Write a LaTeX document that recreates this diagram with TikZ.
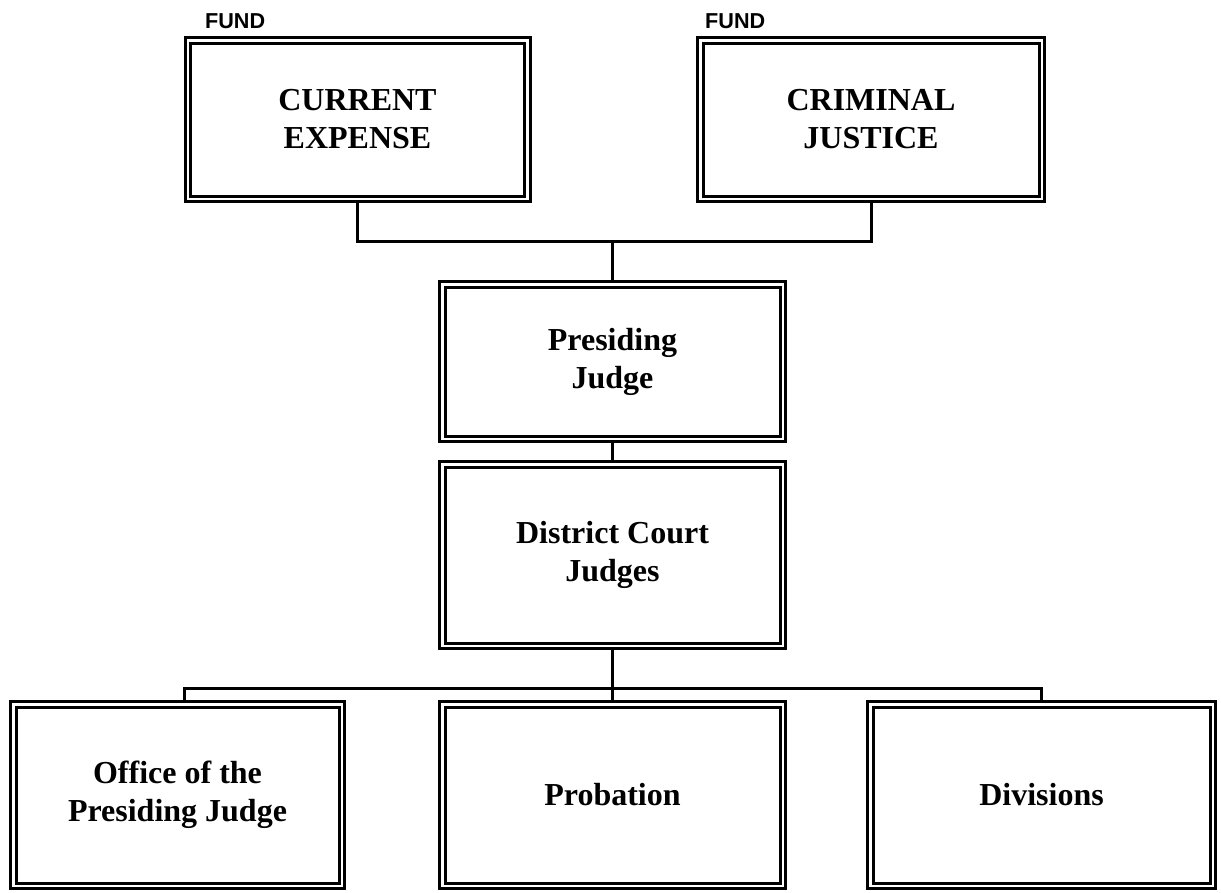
\documentclass[tikz,border=0pt]{standalone}
\usepackage{fontspec}
\setmainfont{Liberation Serif}
\newfontfamily\fundfont{Liberation Sans}
\begin{document}
\begin{tikzpicture}[x=1pt,y=-1pt,
  unitbox/.style={draw, line width=3pt, double, double distance=2.5pt,
    inner sep=0pt, outer sep=4.25pt, align=center,
    font=\fontsize{32}{38}\selectfont\bfseries},
  fundlabel/.style={font=\fontsize{21.6}{24}\fundfont\bfseries, inner sep=0pt, anchor=base west},
  link/.style={line width=3pt}]
\useasboundingbox (0,0) rectangle (1221,892);
% funds
\node[unitbox, minimum width=339.5pt, minimum height=158.5pt] (ce) at (357.5,119.5) {CURRENT\\EXPENSE};
\node[unitbox, minimum width=341.5pt, minimum height=158.5pt] (cj) at (871,119.5) {CRIMINAL\\JUSTICE};
\node[fundlabel] (f1) at (205,28) {FUND};
\node[fundlabel] (f2) at (705,28) {FUND};
% court
\node[unitbox, minimum width=340.5pt, minimum height=154.5pt] (pj) at (612.5,361.5) {Presiding\\Judge};
\node[unitbox, minimum width=340.5pt, minimum height=181.5pt] (dcj) at (612.5,555) {District Court\\Judges};
% units
\node[unitbox, minimum width=328.5pt, minimum height=181.5pt] (opj) at (177.5,795) {Office of the\\Presiding Judge};
\node[unitbox, minimum width=340.5pt, minimum height=181.5pt] (prob) at (612.5,795) {Probation};
\node[unitbox, minimum width=342.5pt, minimum height=181.5pt] (div) at (1041.5,795) {Divisions};
% connectors
\coordinate (fundbar) at (612.5,241);
\coordinate (unitbar) at (612.5,688);
\draw[link] (ce.south) |- (fundbar) -| (cj.south);
\draw[link] (fundbar) -- (pj.north);
\draw[link] (pj.south) -- (dcj.north);
\draw[link] (dcj.south) -- (unitbar);
\draw[link] (opj.north -| 184,0) |- (unitbar) -| (div.north);
\draw[link] (unitbar) -- (prob.north);
\end{tikzpicture}
\end{document}
